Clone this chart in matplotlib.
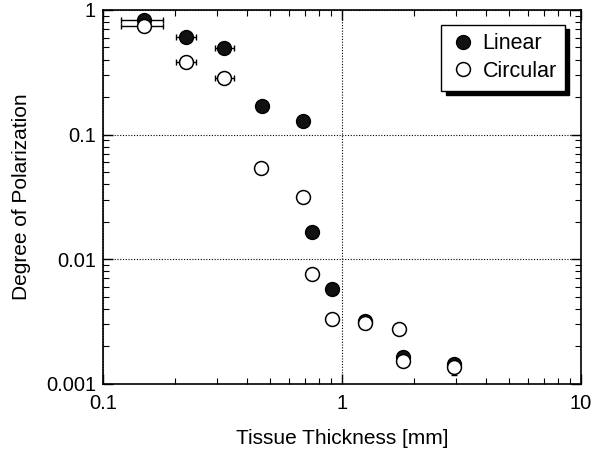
import matplotlib.pyplot as plt
import numpy as np

plt.rcParams['font.family'] = ['Liberation Sans', 'DejaVu Sans']

# tissue thickness [mm] and degree of polarization
thick_lin = [0.148, 0.222, 0.321, 0.463, 0.687, 0.749, 0.908, 1.25, 1.80, 2.94]
dop_lin = [0.83, 0.607, 0.496, 0.170, 0.129, 0.0166, 0.0058, 0.0032, 0.00165, 0.00145]

thick_circ = [0.148, 0.222, 0.321, 0.458, 0.687, 0.749, 0.908, 1.25, 1.73, 1.80, 2.94]
dop_circ = [0.744, 0.383, 0.285, 0.054, 0.0317, 0.00764, 0.00333, 0.00309, 0.00277, 0.00153, 0.00137]

# thickness ranges for the thinnest samples
thick_lo = [0.119, 0.202, 0.294]
thick_hi = [0.178, 0.245, 0.353]

# lower error on the thickest circular point
circ_last_lo = 0.00019

fig = plt.figure(figsize=(5.99, 4.51), dpi=100)
ax = fig.add_axes([0.172, 0.149, 0.798, 0.829])

ax.set_xscale('log')
ax.set_yscale('log')
ax.set_xlim(0.1, 10)
ax.set_ylim(0.001, 1)

ax.grid(True, which='major', linestyle=(0, (1, 1.5)), color='black', linewidth=0.8)

n = len(thick_lo)
for th, dp in [(thick_lin, dop_lin), (thick_circ, dop_circ)]:
    xe = [np.array(th[:n]) - np.array(thick_lo), np.array(thick_hi) - np.array(th[:n])]
    ax.errorbar(th[:n], dp[:n], xerr=xe, fmt='none', ecolor='black',
                elinewidth=1.0, capsize=2.5, capthick=1.0, zorder=3)

ax.errorbar([thick_circ[-1]], [dop_circ[-1]], yerr=[[circ_last_lo], [0]], fmt='none',
            ecolor='black', elinewidth=1.0, capsize=2.5, capthick=1.0, zorder=3)

ax.plot(thick_lin, dop_lin, 'o', markersize=10, markerfacecolor='#111111',
        markeredgecolor='black', markeredgewidth=1.0, label='Linear', zorder=4)
ax.plot(thick_circ, dop_circ, 'o', markersize=10, markerfacecolor='white',
        markeredgecolor='black', markeredgewidth=1.1, label='Circular', zorder=5)

ax.set_xticks([0.1, 1, 10])
ax.set_xticklabels(['0.1', '1', '10'])
ax.set_yticks([0.001, 0.01, 0.1, 1])
ax.set_yticklabels(['0.001', '0.01', '0.1', '1'])

ax.tick_params(which='both', direction='in', top=True, right=True, labelsize=14.5)
ax.tick_params(which='major', length=7, width=1.0)
ax.tick_params(which='minor', length=4, width=0.8)
ax.tick_params(axis='x', pad=7)
ax.tick_params(axis='y', pad=5)
for s in ax.spines.values():
    s.set_linewidth(1.2)

ax.set_xlabel('Tissue Thickness [mm]', fontsize=15, labelpad=12)
ax.set_ylabel('Degree of Polarization', fontsize=15, labelpad=11)

leg = ax.legend(loc='upper right', bbox_to_anchor=(0.967, 0.96), borderaxespad=0,
                fontsize=15.5, frameon=True, fancybox=False, edgecolor='black',
                framealpha=1, handletextpad=0.3, handlelength=1.2,
                borderpad=0.4, labelspacing=0.3,
                shadow={'color': 'black', 'alpha': 1.0, 'ox': 3, 'oy': -3})
leg.get_frame().set_linewidth(1.0)

fig.savefig('out.png', dpi=100)
